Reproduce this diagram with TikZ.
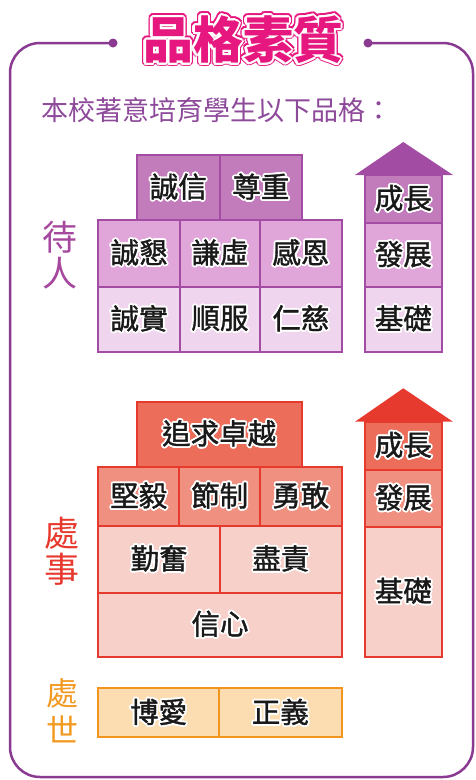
\documentclass[tikz,border=0pt]{standalone}
\usepackage{fontspec}
\usepackage{contour}
\setmainfont{Noto Sans CJK TC}
\newfontfamily\cjk{Noto Sans CJK TC}
\newfontfamily\cjkm[FakeBold=1.3]{Noto Sans CJK TC}
\definecolor{frameP}{HTML}{8B3A92}
\definecolor{labP}{HTML}{A5489E}
\definecolor{subP}{HTML}{8E4A9A}
\definecolor{bordP}{HTML}{A34CA3}
\definecolor{pA}{HTML}{C27BBB}
\definecolor{pB}{HTML}{E0A6DA}
\definecolor{pC}{HTML}{F0D5EE}
\definecolor{bordR}{HTML}{E63A2E}
\definecolor{rA}{HTML}{EC6E5A}
\definecolor{rB}{HTML}{EF9080}
\definecolor{rC}{HTML}{F8D0CA}
\definecolor{labR}{HTML}{E8392E}
\definecolor{bordO}{HTML}{F2951F}
\definecolor{oA}{HTML}{FCDDB2}
\definecolor{labO}{HTML}{F29A21}
\definecolor{titleP}{HTML}{E6177E}
\contourlength{1.8pt}
\newcommand{\cellbox}[8]{%
  \node[cellstyle, draw=#7, fill=#6,
        minimum width={(#4-#2)*1pt}, minimum height={(#5-#3)*1pt}]
        (#1) at ({(#2+#4)/2},{(#3+#5)/2}) {\contour{white}{#8}};}
\tikzset{
  cellstyle/.style={rectangle, inner sep=0pt, line width=2pt,
    font=\cjkm\fontsize{28.5}{30}\selectfont, text=black!90},
  sidelabel/.style={font=\cjk\fontsize{35}{37}\selectfont, inner sep=0pt},
}
\begin{document}
\begin{tikzpicture}[x=1pt,y=-1pt]
\useasboundingbox (0,0) rectangle (475,780);
% frame
\coordinate (dl) at (113,43);
\coordinate (dr) at (368,43);
\draw[frameP, line width=2.5pt, rounded corners=30pt]
  (dl) -- (10,43) -- (10,777) -- (473,777) -- (473,43) -- (dr);
\fill[frameP] (dl) circle (4.5);
\fill[frameP] (dr) circle (4.5);
% title
\node[font=\cjk\bfseries\fontsize{50}{52}\selectfont, inner sep=0pt] (titleA) at (243,41)
  {\contourlength{3.6pt}\contour{titleP}{\color{titleP}品格素質}};
\node[font=\cjk\bfseries\fontsize{50}{52}\selectfont, inner sep=0pt] (title) at (243,41)
  {\contourlength{2.1pt}\contour{white}{\color{titleP}品格素質}};
% subtitle
\node[font=\cjk\fontsize{27}{29}\selectfont, text=subP, anchor=west, inner sep=0pt] (sub) at (41,110)
  {本校著意培育學生以下品格：};
% ---------- 待人 ----------
\node[sidelabel, text=labP] (d1) at (60,237) {待};
\node[sidelabel, text=labP] (d2) at (60,273) {人};
\cellbox{a1}{136.7}{155}{220}{220}{pA}{bordP}{誠信}
\cellbox{a2}{220}{155}{301.7}{220}{pA}{bordP}{尊重}
\cellbox{a3}{98.3}{220}{180}{286.7}{pB}{bordP}{誠懇}
\cellbox{a4}{180}{220}{260}{286.7}{pB}{bordP}{謙虛}
\cellbox{a5}{260}{220}{341.7}{286.7}{pB}{bordP}{感恩}
\cellbox{a6}{98.3}{286.7}{180}{351.7}{pC}{bordP}{誠實}
\cellbox{a7}{180}{286.7}{260}{351.7}{pC}{bordP}{順服}
\cellbox{a8}{260}{286.7}{341.7}{351.7}{pC}{bordP}{仁慈}
\fill[bordP] (355,175) -- (403.3,142) -- (453,175) -- cycle;
\cellbox{b1}{365}{175}{441.7}{223}{pA}{bordP}{成長}
\cellbox{b2}{365}{223}{441.7}{287}{pB}{bordP}{發展}
\cellbox{b3}{365}{287}{441.7}{351.7}{pC}{bordP}{基礎}
% ---------- 處事 ----------
\node[sidelabel, text=labR] (e1) at (62,533) {處};
\node[sidelabel, text=labR] (e2) at (62,569) {事};
\cellbox{c1}{136.7}{401.7}{301.7}{466.7}{rA}{bordR}{追求卓越}
\cellbox{c2}{98.3}{466.7}{179.3}{526}{rB}{bordR}{堅毅}
\cellbox{c3}{179.3}{466.7}{260}{526}{rB}{bordR}{節制}
\cellbox{c4}{260}{466.7}{341.7}{526}{rB}{bordR}{勇敢}
\cellbox{c5}{98.3}{526}{220}{592.7}{rC}{bordR}{勤奮}
\cellbox{c6}{220}{526}{341.7}{592.7}{rC}{bordR}{盡責}
\cellbox{c7}{98.3}{592.7}{341.7}{656.7}{rC}{bordR}{信心}
\fill[bordR] (355,421.7) -- (403.3,388.3) -- (453,421.7) -- cycle;
\cellbox{f1}{365}{421.7}{441.7}{470}{rA}{bordR}{成長}
\cellbox{f2}{365}{470}{441.7}{526.7}{rB}{bordR}{發展}
\cellbox{f3}{365}{526.7}{441.7}{656.7}{rC}{bordR}{基礎}
% ---------- 處世 ----------
\node[sidelabel, text=labO, font=\cjk\fontsize{32}{34}\selectfont] (g1) at (62,693) {處};
\node[sidelabel, text=labO, font=\cjk\fontsize{32}{34}\selectfont] (g2) at (62,729) {世};
\cellbox{h1}{98.3}{688.3}{219}{737.3}{oA}{bordO}{博愛}
\cellbox{h2}{219}{688.3}{341.7}{737.3}{oA}{bordO}{正義}
\end{tikzpicture}
\end{document}
